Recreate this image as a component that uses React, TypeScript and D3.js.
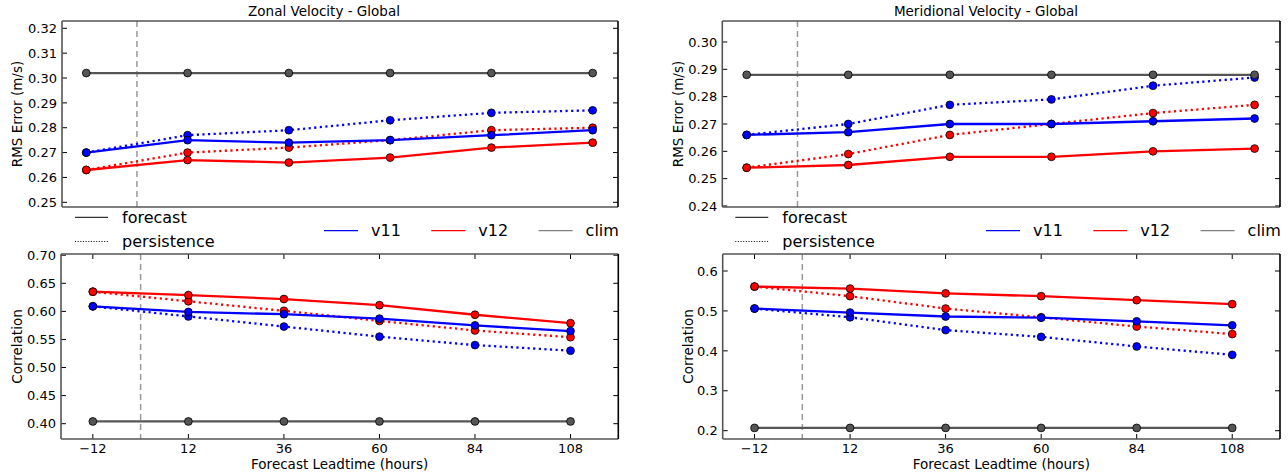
import React from "react";
import * as d3 from "d3";

const leadtimes = [-12, 12, 36, 60, 84, 108];
const xTicks = [-12, 12, 36, 60, 84, 108];

// Zonal RMS
const zonalRmsV11Fc = [0.270, 0.275, 0.274, 0.275, 0.277, 0.279];
const zonalRmsV11Pers = [0.270, 0.277, 0.279, 0.283, 0.286, 0.287];
const zonalRmsV12Fc = [0.263, 0.267, 0.266, 0.268, 0.272, 0.274];
const zonalRmsV12Pers = [0.263, 0.270, 0.272, 0.275, 0.279, 0.280];
const zonalRmsClim = [0.302, 0.302, 0.302, 0.302, 0.302, 0.302];
const zonalRmsTicks = [0.25, 0.26, 0.27, 0.28, 0.29, 0.30, 0.31, 0.32];

// Meridional RMS
const merRmsV11Fc = [0.266, 0.267, 0.270, 0.270, 0.271, 0.272];
const merRmsV11Pers = [0.266, 0.270, 0.277, 0.279, 0.284, 0.287];
const merRmsV12Fc = [0.254, 0.255, 0.258, 0.258, 0.260, 0.261];
const merRmsV12Pers = [0.254, 0.259, 0.266, 0.270, 0.274, 0.277];
const merRmsClim = [0.288, 0.288, 0.288, 0.288, 0.288, 0.288];
const merRmsTicks = [0.24, 0.25, 0.26, 0.27, 0.28, 0.29, 0.30];

// Zonal correlation
const zonalCorV11Fc = [0.609, 0.599, 0.595, 0.587, 0.575, 0.565];
const zonalCorV11Pers = [0.609, 0.591, 0.573, 0.555, 0.540, 0.530];
const zonalCorV12Fc = [0.635, 0.629, 0.622, 0.611, 0.594, 0.579];
const zonalCorV12Pers = [0.635, 0.618, 0.601, 0.583, 0.566, 0.554];
const zonalCorClim = [0.404, 0.404, 0.404, 0.404, 0.404, 0.404];
const zonalCorTicks = [0.40, 0.45, 0.50, 0.55, 0.60, 0.65, 0.70];

// Meridional correlation
const merCorV11Fc = [0.506, 0.496, 0.486, 0.483, 0.474, 0.464];
const merCorV11Pers = [0.506, 0.484, 0.452, 0.435, 0.411, 0.390];
const merCorV12Fc = [0.561, 0.556, 0.544, 0.537, 0.527, 0.517];
const merCorV12Pers = [0.561, 0.537, 0.506, 0.484, 0.461, 0.442];
const merCorClim = [0.207, 0.207, 0.207, 0.207, 0.207, 0.207];
const merCorTicks = [0.2, 0.3, 0.4, 0.5, 0.6];

const BLUE = "#0000ff";
const RED = "#ff0000";
const GREY = "#555555";
const FONT = "DejaVu Sans, sans-serif";

type Series = { values: number[]; color: string; dotted: boolean };

type PanelProps = {
  x0: number; x1: number; y0: number; y1: number;
  xDomain: [number, number];
  yDomain: [number, number];
  yTicks: number[];
  yFmt: (v: number) => string;
  showX: boolean;
  title?: string;
  titleX?: number;
  ylabel: string;
  ylabelX: number;
  series: Series[];
};

function Panel(p: PanelProps) {
  const xs = d3.scaleLinear().domain(p.xDomain).range([p.x0, p.x1]);
  const ys = d3.scaleLinear().domain(p.yDomain).range([p.y1, p.y0]);
  const line = d3
    .line<number>()
    .x((_, i) => xs(leadtimes[i]))
    .y((d) => ys(d));
  const tl = 5;
  return (
    <g>
      <defs>
        <clipPath id={`clip-${p.x0}-${p.y0}`}>
          <rect x={p.x0} y={p.y0} width={p.x1 - p.x0} height={p.y1 - p.y0} />
        </clipPath>
      </defs>
      <line
        x1={xs(0)} x2={xs(0)} y1={p.y0} y2={p.y1}
        stroke="#999999" strokeWidth={1.5} strokeDasharray="6,4"
      />
      <g clipPath={`url(#clip-${p.x0}-${p.y0})`}>
        {p.series.map((s, i) => (
          <path
            key={"l" + i}
            d={line(s.values) || ""}
            fill="none"
            stroke={s.color}
            strokeWidth={2.3}
            strokeDasharray={s.dotted ? "2.2,3.4" : undefined}
          />
        ))}
        {p.series.map((s, i) =>
          s.values.map((v, j) => (
            <circle
              key={"m" + i + "-" + j}
              cx={xs(leadtimes[j])}
              cy={ys(v)}
              r={3.9}
              fill={s.color}
              stroke="#000"
              strokeWidth={0.8}
            />
          ))
        )}
      </g>
      {p.yTicks.map((t) => (
        <g key={"yt" + t}>
          <line x1={p.x0} x2={p.x0 + tl} y1={ys(t)} y2={ys(t)} stroke="#000" strokeWidth={1} />
          <line x1={p.x1} x2={p.x1 - tl} y1={ys(t)} y2={ys(t)} stroke="#000" strokeWidth={1} />
          <text
            x={p.x0 - 5}
            y={ys(t)}
            dy="0.36em"
            textAnchor="end"
            fontSize={13}
            fontFamily={FONT}
            fill="#000"
          >
            {p.yFmt(t)}
          </text>
        </g>
      ))}
      {p.showX &&
        xTicks.map((t) => (
          <g key={"xt" + t}>
            <line x1={xs(t)} x2={xs(t)} y1={p.y1} y2={p.y1 - tl} stroke="#000" strokeWidth={1} />
            <line x1={xs(t)} x2={xs(t)} y1={p.y0} y2={p.y0 + tl} stroke="#000" strokeWidth={1} />
            <text
              x={xs(t)}
              y={p.y1 + 14}
              textAnchor="middle"
              fontSize={13}
              fontFamily={FONT}
              fill="#000"
            >
              {t < 0 ? "\u2212" + Math.abs(t) : String(t)}
            </text>
          </g>
        ))}
      <line x1={p.x0} x2={p.x1} y1={p.y0} y2={p.y0} stroke={GREY} strokeWidth={1.6} />
      <line x1={p.x0} x2={p.x1} y1={p.y1} y2={p.y1} stroke={GREY} strokeWidth={1.6} />
      <line x1={p.x0} x2={p.x0} y1={p.y0} y2={p.y1} stroke={GREY} strokeWidth={1.6} />
      <line x1={p.x1} x2={p.x1} y1={p.y0} y2={p.y1} stroke="#000" strokeWidth={1.6} />
      {p.title && (
        <text
          x={p.titleX}
          y={p.y0 - 5}
          textAnchor="middle"
          fontSize={13.5}
          fontFamily={FONT}
          fill="#000"
        >
          {p.title}
        </text>
      )}
      <text
        transform={`translate(${p.ylabelX},${(p.y0 + p.y1) / 2}) rotate(-90)`}
        textAnchor="middle"
        dy="0.36em"
        fontSize={13.5}
        fontFamily={FONT}
        fill="#000"
      >
        {p.ylabel}
      </text>
      {p.showX && (
        <text
          x={(p.x0 + p.x1) / 2}
          y={p.y1 + 30}
          textAnchor="middle"
          fontSize={13.5}
          fontFamily={FONT}
          fill="#000"
        >
          Forecast Leadtime (hours)
        </text>
      )}
    </g>
  );
}

function Legend({ x0, x1 }: { x0: number; x1: number }) {
  const items = [
    { label: "v11", color: BLUE },
    { label: "v12", color: RED },
    { label: "clim", color: "#808080" },
  ];
  const step = 107.3;
  return (
    <g fontFamily={FONT} fontSize={16} fill="#000">
      <line x1={x0 + 13} x2={x0 + 46} y1={217.3} y2={217.3} stroke="#000" strokeWidth={1} />
      <text x={x0 + 60} y={217.3} dy="0.36em">forecast</text>
      <line x1={x0 + 13} x2={x0 + 46} y1={241.5} y2={241.5} stroke="#000" strokeWidth={1} strokeDasharray="1,1.65" />
      <text x={x0 + 60} y={241.5} dy="0.36em">persistence</text>
      {items.map((it, i) => {
        const lx = x1 - 294 + i * step;
        return (
          <g key={it.label}>
            <line x1={lx} x2={lx + 34} y1={230.7} y2={230.7} stroke={it.color} strokeWidth={1.2} />
            <text x={lx + 47} y={230.7} dy="0.36em">{it.label}</text>
          </g>
        );
      })}
    </g>
  );
}

export default function App() {
  const topX: [number, number] = [-17.76, 114];
  const botX: [number, number] = [-20, 120];
  const f2 = (v: number) => v.toFixed(2);
  const f1 = (v: number) => v.toFixed(1);
  return (
    <svg
      width={1288}
      height={476}
      style={{ position: "absolute", left: 0, top: 0, background: "#fff" }}
    >
      <rect width={1288} height={476} fill="#fff" />
      <Panel
        x0={62} x1={618} y0={21} y1={207}
        xDomain={topX} yDomain={[0.24811, 0.32294]}
        yTicks={zonalRmsTicks} yFmt={f2} showX={false}
        title="Zonal Velocity - Global" titleX={324}
        ylabel="RMS Error (m/s)" ylabelX={17}
        series={[
          { values: zonalRmsClim, color: GREY, dotted: false },
          { values: zonalRmsV11Pers, color: BLUE, dotted: true },
          { values: zonalRmsV12Pers, color: RED, dotted: true },
          { values: zonalRmsV11Fc, color: BLUE, dotted: false },
          { values: zonalRmsV12Fc, color: RED, dotted: false },
        ]}
      />
      <Panel
        x0={722.3} x1={1280} y0={21} y1={207}
        xDomain={topX} yDomain={[0.23963, 0.30768]}
        yTicks={merRmsTicks} yFmt={f2} showX={false}
        title="Meridional Velocity - Global" titleX={986}
        ylabel="RMS Error (m/s)" ylabelX={678}
        series={[
          { values: merRmsV11Pers, color: BLUE, dotted: true },
          { values: merRmsV12Pers, color: RED, dotted: true },
          { values: merRmsV11Fc, color: BLUE, dotted: false },
          { values: merRmsV12Fc, color: RED, dotted: false },
          { values: merRmsClim, color: GREY, dotted: false },
        ]}
      />
      <Panel
        x0={61} x1={618.3} y0={254} y1={439}
        xDomain={botX} yDomain={[0.37276, 0.70217]}
        yTicks={zonalCorTicks} yFmt={f2} showX={true}
        ylabel="Correlation" ylabelX={17}
        series={[
          { values: zonalCorClim, color: GREY, dotted: false },
          { values: zonalCorV12Pers, color: RED, dotted: true },
          { values: zonalCorV11Pers, color: BLUE, dotted: true },
          { values: zonalCorV12Fc, color: RED, dotted: false },
          { values: zonalCorV11Fc, color: BLUE, dotted: false },
        ]}
      />
      <Panel
        x0={722.7} x1={1280} y0={254} y1={439}
        xDomain={botX} yDomain={[0.1792, 0.6426]}
        yTicks={merCorTicks} yFmt={f1} showX={true}
        ylabel="Correlation" ylabelX={688}
        series={[
          { values: merCorClim, color: GREY, dotted: false },
          { values: merCorV12Pers, color: RED, dotted: true },
          { values: merCorV11Pers, color: BLUE, dotted: true },
          { values: merCorV12Fc, color: RED, dotted: false },
          { values: merCorV11Fc, color: BLUE, dotted: false },
        ]}
      />
      <Legend x0={62} x1={618} />
      <Legend x0={722.3} x1={1280} />
    </svg>
  );
}
